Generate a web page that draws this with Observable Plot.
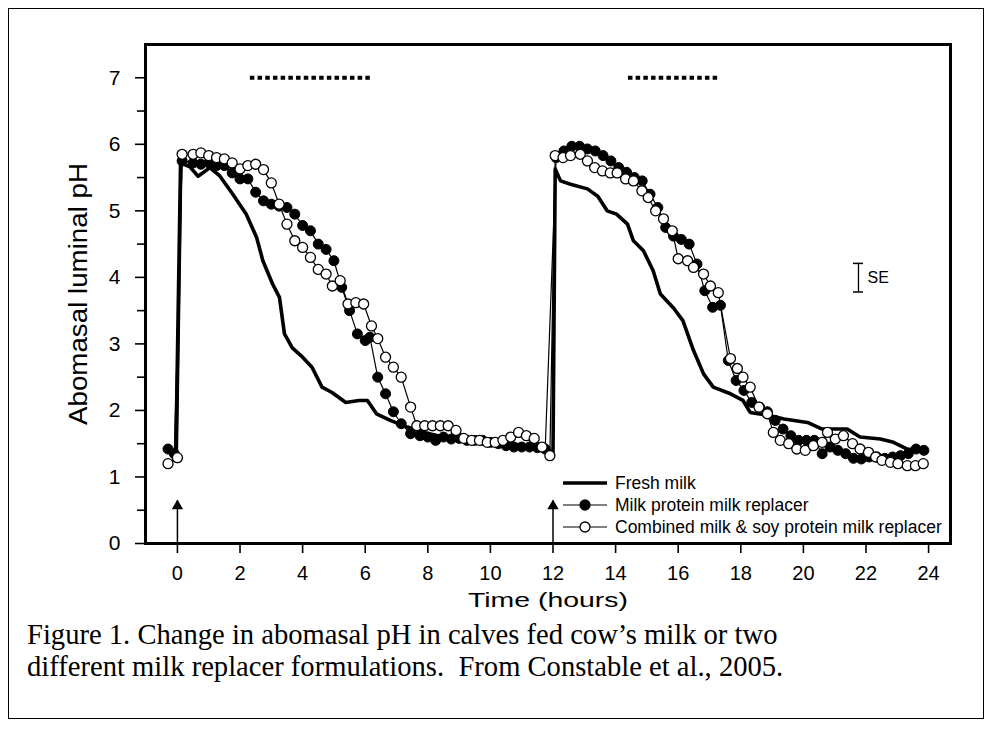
<!DOCTYPE html>
<html><head><meta charset="utf-8">
<script src="https://cdn.jsdelivr.net/npm/d3@7"></script>
<script src="https://cdn.jsdelivr.net/npm/@observablehq/plot@0.6"></script>
<style>
body{margin:0;background:#fff;}
#fig{position:relative;width:992px;height:744px;overflow:hidden;background:#fff;font-family:Arial,"Liberation Sans",sans-serif;}
#border{position:absolute;left:8px;top:8px;width:976px;height:711px;border:1.5px solid #000;box-sizing:border-box;}
#chart{position:absolute;left:0;top:0;}
#legend{position:absolute;left:0;top:0;pointer-events:none;}
.cap{position:absolute;left:27px;font-family:"Liberation Serif","Times New Roman",serif;font-size:28.6px;line-height:32px;white-space:pre;color:#000;}
</style></head>
<body>
<div id="fig">
  <div id="border"></div>
  <div id="chart"></div>
  <svg id="legend" width="992" height="744"></svg>
  <div class="cap" id="cap1" style="top:619px"></div>
  <div class="cap" id="cap2" style="top:651px"></div>
</div>
<script>
// ---------- data (hours, pH) ----------
const freshMilk = [
 [-0.3,1.45],[-0.05,1.35],[0.1,5.72],[0.4,5.66],[0.66,5.52],[1.04,5.65],[1.36,5.52],[1.77,5.25],
 [2.2,4.95],[2.53,4.6],[2.73,4.25],[3.04,3.9],[3.26,3.7],[3.42,3.15],[3.67,2.94],[4.0,2.8],
 [4.3,2.65],[4.62,2.35],[4.94,2.27],[5.38,2.12],[5.8,2.15],[6.07,2.15],[6.36,1.95],[6.8,1.85],
 [7.35,1.75],[7.87,1.67],[8.5,1.6],[9.0,1.58],[9.5,1.55],[10.0,1.55],[10.5,1.5],[11.0,1.48],
 [11.5,1.42],[12.0,1.38],[12.07,5.63],[12.24,5.45],[12.56,5.4],[13.1,5.33],[13.43,5.22],[13.73,5.0],
 [14.03,4.95],[14.38,4.8],[14.57,4.55],[14.89,4.4],[15.2,4.1],[15.43,3.75],[15.85,3.54],[16.15,3.35],
 [16.49,2.9],[16.81,2.55],[17.12,2.35],[17.67,2.25],[18.07,2.15],[18.3,1.97],[18.95,1.92],[19.38,1.87],
 [20.13,1.82],[20.6,1.72],[21.4,1.72],[21.81,1.6],[22.46,1.57],[22.88,1.52],[23.32,1.42],[23.83,1.4],[23.95,1.38]
];
const milkProtein = [
 [-0.3,1.42],[-0.1,1.35],
 [0.15,5.75],[0.5,5.72],[0.75,5.7],[1.0,5.72],[1.25,5.68],[1.5,5.68],[1.75,5.57],[2.0,5.48],
 [2.25,5.48],[2.5,5.28],[2.75,5.15],[3.0,5.1],[3.25,5.07],[3.5,5.05],[3.75,4.95],[4.0,4.78],
 [4.25,4.7],[4.5,4.5],[4.75,4.42],[5.0,4.25],[5.25,3.85],[5.5,3.5],[5.75,3.15],[6.0,3.05],
 [6.15,3.1],[6.4,2.5],[6.65,2.25],[6.9,1.98],[7.15,1.8],[7.45,1.65],[7.75,1.62],[8.0,1.6],
 [8.25,1.55],[8.5,1.6],[8.75,1.57],[9.0,1.58],[9.25,1.55],[9.5,1.55],[9.75,1.55],[10.0,1.52],
 [10.25,1.5],[10.5,1.47],[10.75,1.45],[11.0,1.45],[11.25,1.45],[11.5,1.44],[11.75,1.42],
 [12.1,5.8],[12.35,5.9],[12.6,5.97],[12.85,5.97],[13.1,5.93],[13.35,5.9],[13.6,5.83],[13.85,5.75],
 [14.1,5.65],[14.35,5.58],[14.6,5.5],[14.85,5.45],[15.1,5.25],[15.35,5.05],[15.6,4.75],[15.85,4.62],
 [16.1,4.57],[16.35,4.5],[16.6,4.2],[16.85,3.8],[17.1,3.55],[17.35,3.58],[17.6,2.75],[17.85,2.45],
 [18.1,2.3],[18.35,2.12],[18.6,2.05],[18.85,1.98],[19.1,1.85],[19.35,1.72],[19.6,1.62],[19.85,1.55],
 [20.1,1.55],[20.35,1.55],[20.6,1.35],[20.85,1.45],[21.1,1.4],[21.35,1.35],[21.6,1.28],[21.85,1.27],
 [22.1,1.3],[22.35,1.3],[22.6,1.28],[22.85,1.3],[23.1,1.32],[23.35,1.35],[23.6,1.42],[23.85,1.4]
];
const milkSoy = [
 [-0.3,1.2],[0.0,1.29],
 [0.15,5.85],[0.5,5.85],[0.75,5.87],[1.0,5.83],[1.25,5.8],[1.5,5.78],[1.75,5.72],[2.0,5.63],
 [2.25,5.68],[2.5,5.7],[2.75,5.62],[3.0,5.42],[3.25,5.1],[3.5,4.8],[3.75,4.55],[4.0,4.45],
 [4.25,4.3],[4.5,4.12],[4.75,4.05],[4.95,3.87],[5.2,3.95],[5.45,3.6],[5.7,3.62],[5.95,3.6],
 [6.2,3.27],[6.4,3.08],[6.65,2.8],[6.9,2.65],[7.15,2.5],[7.45,2.05],[7.65,1.77],[7.9,1.77],
 [8.15,1.77],[8.4,1.77],[8.65,1.77],[8.9,1.7],[9.15,1.58],[9.4,1.55],[9.65,1.55],[9.9,1.52],
 [10.15,1.52],[10.4,1.55],[10.65,1.6],[10.9,1.67],[11.15,1.62],[11.4,1.58],[11.65,1.45],[11.9,1.32],
 [12.07,5.83],[12.32,5.8],[12.56,5.83],[12.87,5.85],[13.1,5.75],[13.33,5.65],[13.58,5.6],[13.83,5.57],
 [14.05,5.57],[14.32,5.48],[14.57,5.45],[14.84,5.3],[15.04,5.2],[15.28,5.0],[15.53,4.88],[15.81,4.7],
 [16.0,4.28],[16.3,4.25],[16.49,4.15],[16.81,4.05],[17.03,3.87],[17.28,3.77],[17.67,2.78],[17.89,2.63],
 [18.07,2.5],[18.3,2.35],[18.58,2.05],[18.85,1.95],[19.04,1.67],[19.26,1.55],[19.53,1.5],[19.79,1.42],
 [20.06,1.4],[20.32,1.47],[20.6,1.52],[20.77,1.67],[21.02,1.57],[21.28,1.62],[21.57,1.5],[21.81,1.42],
 [22.08,1.37],[22.31,1.3],[22.51,1.25],[22.78,1.22],[23.02,1.2],[23.32,1.17],[23.58,1.17],[23.83,1.2]
];
const sigBars = [{start: 2.33, end: 6.26}, {start: 14.41, end: 17.35}];
const sigLevel = 7;
const feedTimes = [0, 12];
const arrowTip = 0.64;
const seTime = 21.76, seLow = 3.78, seHigh = 4.21;
const xTicks = [0,2,4,6,8,10,12,14,16,18,20,22,24];
const yTicks = [0,1,2,3,4,5,6,7];
const yMinor = [0.5,1.5,2.5,3.5,4.5,5.5,6.5];
const xTitle = "Time (hours)";
const yTitle = "Abomasal luminal pH";
const legendLabels = ["Fresh milk", "Milk protein milk replacer", "Combined milk & soy protein milk replacer"];
const captionLines = ["Figure 1. Change in abomasal pH in calves fed cow\u2019s milk or two",
                      "different milk replacer formulations.  From Constable et al., 2005."];

// ---------- chart ----------
const X = d => d[0], Y = d => d[1];
const chart = Plot.plot({
  width: 992, height: 620,
  marginLeft: 145, marginRight: 42, marginTop: 44, marginBottom: 77,
  style: {fontFamily: "Arial, 'Liberation Sans', sans-serif", color: "#000", background: "transparent"},
  x: {domain: [-1.02, 24.7]},
  y: {domain: [0, 7.5]},
  marks: [
    Plot.axisY(yTicks, {tickSize: 10, tickPadding: 15, fontSize: 21, strokeWidth: 1.6, label: null, tickFormat: d => String(d)}),
    Plot.axisY(yMinor, {tickSize: 8, tickFormat: () => "", strokeWidth: 1.6, label: null}),
    Plot.axisX(xTicks, {tickSize: 10, tickPadding: 12, fontSize: 20, strokeWidth: 1.6, label: null, tickFormat: d => String(d)}),
    Plot.text([yTitle], {text: d => d, frameAnchor: "left", textAnchor: "middle", dx: -67, rotate: -90, fontSize: 25}),
    Plot.text([xTitle], {text: d => d, frameAnchor: "bottom", textAnchor: "middle", dy: 63, fontSize: 21}),
    Plot.ruleY(sigBars, {x1: "start", x2: "end", y: () => sigLevel, strokeWidth: 4, strokeDasharray: "4.5,3.2"}),
    Plot.ruleX(feedTimes, {x: d => d, y1: () => 0, y2: () => arrowTip, strokeWidth: 1.5}),
    Plot.dot(feedTimes, {x: d => d, y: () => arrowTip, symbol: "triangle", r: 4.2, fill: "#000", stroke: null, dy: 5}),
    Plot.ruleX([seTime], {x: d => d, y1: () => seLow, y2: () => seHigh, strokeWidth: 1.3}),
    Plot.ruleY([seLow, seHigh], {y: d => d, x1: () => seTime - 0.16, x2: () => seTime + 0.16, strokeWidth: 1.5}),
    Plot.text(["SE"], {text: d => d, x: () => seTime, y: () => (seLow + seHigh) / 2, dx: 9, textAnchor: "start", fontSize: 16}),
    Plot.line(freshMilk, {x: X, y: Y, stroke: "#000", strokeWidth: 3.6, curve: "linear"}),
    Plot.line(milkProtein, {x: X, y: Y, stroke: "#000", strokeWidth: 1.2}),
    Plot.dot(milkProtein, {x: X, y: Y, r: 5, fill: "#000", stroke: "#000", strokeWidth: 1}),
    Plot.line(milkSoy, {x: X, y: Y, stroke: "#000", strokeWidth: 1.2}),
    Plot.dot(milkSoy, {x: X, y: Y, r: 5, fill: "#fff", stroke: "#000", strokeWidth: 1.3}),
    Plot.frame({stroke: "#000", strokeWidth: 3})
  ]
});
document.getElementById("chart").appendChild(chart);
const cs = d3.select(chart);
cs.selectAll("text").filter(function(){ return this.textContent === xTitle; })
  .attr("textLength", 160).attr("lengthAdjust", "spacingAndGlyphs");
cs.selectAll("text").filter(function(){ return this.textContent === yTitle; })
  .attr("textLength", 262).attr("lengthAdjust", "spacingAndGlyphs");

// ---------- legend ----------
const lg = d3.select("#legend");
const lx0 = 563, lx1 = 607, ltx = 615, ly0 = 483, lstep = 22;
legendLabels.forEach((lab, i) => {
  const y = ly0 + i * lstep;
  lg.append("line").attr("x1", lx0).attr("x2", lx1).attr("y1", y).attr("y2", y)
    .attr("stroke", "#000").attr("stroke-width", i === 0 ? 3.6 : 1.2);
  if (i > 0) lg.append("circle").attr("cx", (lx0 + lx1) / 2).attr("cy", y).attr("r", 5)
    .attr("fill", i === 1 ? "#000" : "#fff").attr("stroke", "#000").attr("stroke-width", 1.3);
  lg.append("text").attr("x", ltx).attr("y", y).attr("dy", "0.35em")
    .attr("font-family", "Arial, 'Liberation Sans', sans-serif").attr("font-size", 17.5)
    .attr("fill", "#000").text(lab);
});

// ---------- caption ----------
document.getElementById("cap1").textContent = captionLines[0];
document.getElementById("cap2").textContent = captionLines[1];
</script>
</body></html>
